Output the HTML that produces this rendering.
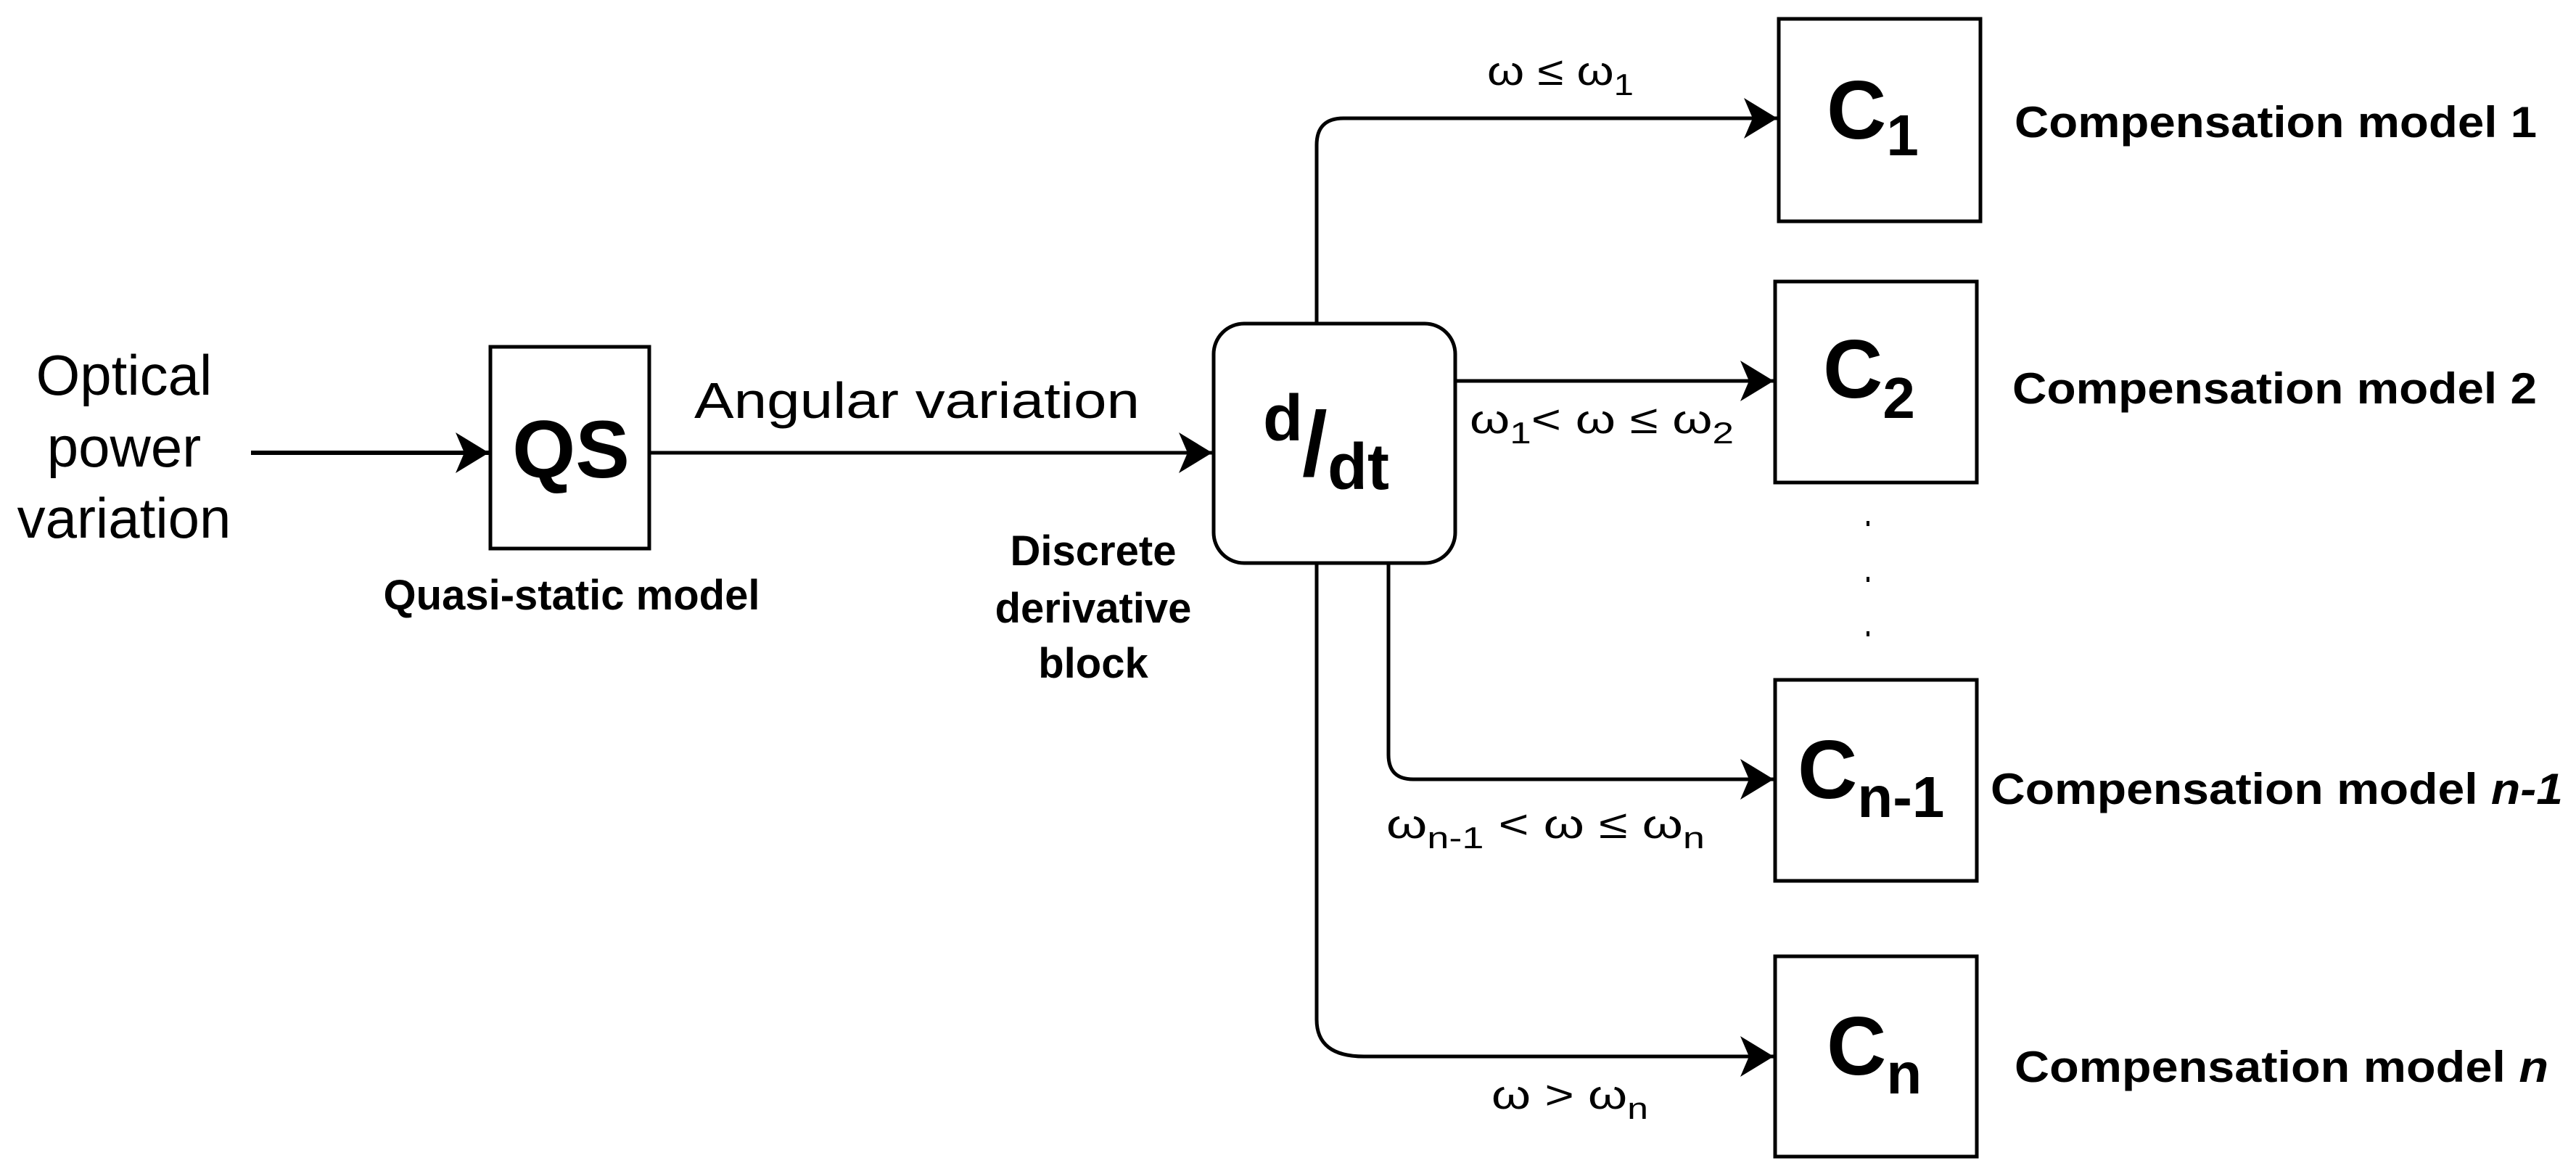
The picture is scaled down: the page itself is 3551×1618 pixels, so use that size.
<!DOCTYPE html>
<html><head><meta charset="utf-8"><style>html,body{margin:0;padding:0;background:#fff}svg{display:block}</style></head>
<body>
<svg width="3551" height="1618" viewBox="0 0 3551 1618" xmlns="http://www.w3.org/2000/svg" font-family="Liberation Sans, Arial, sans-serif">
<defs>
<marker id="ah" markerWidth="50" markerHeight="56" refX="46" refY="28" orient="auto" markerUnits="userSpaceOnUse">
<path d="M0,0 L46,28 L0,56 L12,28 Z" fill="#000"/>
</marker>
</defs>
<g fill="none" stroke="#000" stroke-width="5">
<!-- boxes -->
<rect x="676" y="478" width="219" height="278"/>
<rect x="1673" y="446" width="333" height="330" rx="42" ry="42"/>
<rect x="2452" y="26" width="278" height="279"/>
<rect x="2447" y="388" width="278" height="277"/>
<rect x="2447" y="937" width="278" height="277"/>
<rect x="2447" y="1318" width="278" height="276"/>
<!-- connectors -->
<line x1="346" y1="624" x2="674" y2="624" stroke-width="6" marker-end="url(#ah)"/>
<line x1="895" y1="624" x2="1671" y2="624" marker-end="url(#ah)"/>
<path d="M1815,446 L1815,200 Q1815,163 1852,163 L2450,163" marker-end="url(#ah)"/>
<line x1="2006" y1="525" x2="2445" y2="525" marker-end="url(#ah)"/>
<path d="M1914,776 L1914,1040 Q1914,1074 1948,1074 L2445,1074" marker-end="url(#ah)"/>
<path d="M1815,776 L1815,1405 Q1815,1456 1880,1456 L2445,1456" marker-end="url(#ah)"/>
</g>
<!-- dots -->
<g fill="#000">
<rect x="2573" y="718" width="4" height="7"/>
<rect x="2573" y="795" width="4" height="7"/>
<rect x="2573" y="870" width="4" height="7"/>
</g>
<g fill="#000">
<text x="171" y="544" font-size="78" text-anchor="middle">Optical</text>
<text x="171" y="643" font-size="78" text-anchor="middle">power</text>
<text x="171" y="741" font-size="78" text-anchor="middle">variation</text>
<text x="787" y="658" font-size="112" font-weight="bold" text-anchor="middle">QS</text>
<text x="957" y="576" font-size="70" textLength="614" lengthAdjust="spacingAndGlyphs">Angular variation</text>
<text x="788" y="840" font-size="58" font-weight="bold" text-anchor="middle">Quasi-static model</text>
<text x="1507" y="779" font-size="58" font-weight="bold" text-anchor="middle">Discrete</text>
<text x="1507" y="858" font-size="58" font-weight="bold" text-anchor="middle">derivative</text>
<text x="1507" y="934" font-size="58" font-weight="bold" text-anchor="middle">block</text>
<text x="1741" y="607" font-size="90" font-weight="bold">d</text>
<text x="1795" y="655" font-size="125" font-weight="bold">/</text>
<text x="1830" y="674" font-size="90" font-weight="bold">dt</text>
<!-- C labels -->
<text x="2518" y="191" font-size="114" font-weight="bold">C<tspan font-size="80" dy="23">1</tspan></text>
<text x="2513" y="548" font-size="114" font-weight="bold">C<tspan font-size="80" dy="28">2</tspan></text>
<text x="2478" y="1100" font-size="114" font-weight="bold">C<tspan font-size="80" dy="26">n-1</tspan></text>
<text x="2518" y="1481" font-size="114" font-weight="bold">C<tspan font-size="80" dy="26">n</tspan></text>
<!-- model labels -->
<text x="2777" y="189" font-size="60" font-weight="bold" textLength="720" lengthAdjust="spacingAndGlyphs">Compensation model 1</text>
<text x="2774" y="556" font-size="60" font-weight="bold" textLength="723" lengthAdjust="spacingAndGlyphs">Compensation model 2</text>
<text x="2744" y="1108" font-size="60" font-weight="bold" textLength="789" lengthAdjust="spacingAndGlyphs">Compensation model <tspan font-style="italic">n-1</tspan></text>
<text x="2777" y="1491" font-size="60" font-weight="bold" textLength="736" lengthAdjust="spacingAndGlyphs">Compensation model <tspan font-style="italic">n</tspan></text>
<!-- condition labels -->
<text x="2050" y="117" font-size="56" textLength="202" lengthAdjust="spacingAndGlyphs">ω ≤ ω<tspan font-size="42" dy="14">1</tspan></text>
<text x="2026" y="597" font-size="56" textLength="364" lengthAdjust="spacingAndGlyphs">ω<tspan font-size="42" dy="14">1</tspan><tspan dy="-14">&lt; ω ≤ ω</tspan><tspan font-size="42" dy="14">2</tspan></text>
<text x="1911" y="1155" font-size="56" textLength="439" lengthAdjust="spacingAndGlyphs">ω<tspan font-size="42" dy="14">n-1</tspan><tspan dy="-14"> &lt; ω ≤ ω</tspan><tspan font-size="42" dy="14">n</tspan></text>
<text x="2056" y="1528" font-size="56" textLength="216" lengthAdjust="spacingAndGlyphs">ω &gt; ω<tspan font-size="42" dy="14">n</tspan></text>
</g>
</svg>
</body></html>
